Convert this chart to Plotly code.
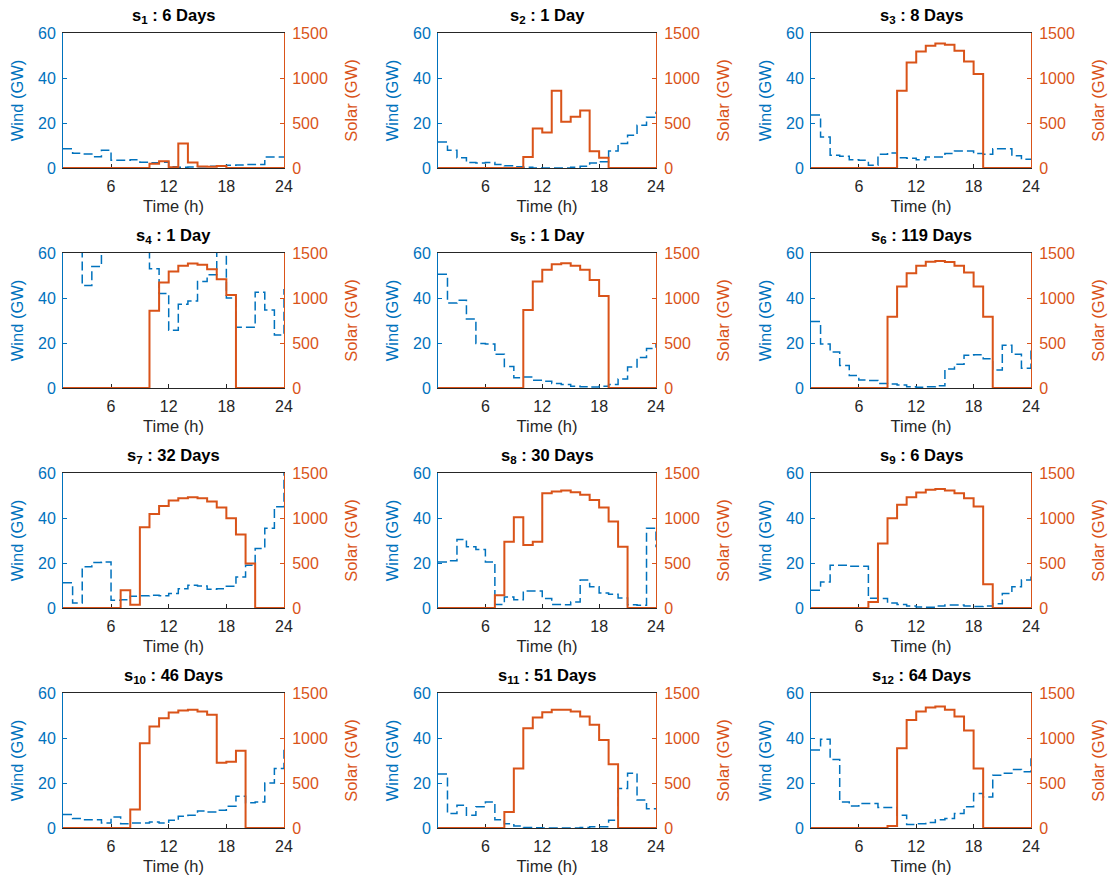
import plotly.graph_objects as go

hours = list(range(1, 25))
days = [6, 1, 8, 1, 1, 119, 32, 30, 6, 46, 51, 64]

wind_s1 = [8.6, 6.5, 6.2, 5.0, 7.9, 3.4, 3.4, 3.7, 2.6, 2.3, 2.5, 0.5, 0.3, 0.4, 0.6, 0.8, 1.0, 1.2, 1.3, 1.5, 1.6, 4.9, 4.9, 4.9]
wind_s2 = [11.6, 7.9, 4.5, 2.4, 2.2, 2.4, 1.6, 1.0, 0.5, 0.3, 0, 0, 0, 0, 0.3, 0.8, 2.2, 2.8, 7.5, 10.9, 14.6, 19, 22.5, 25]
wind_s3 = [23.5, 13.8, 5.7, 5.2, 3.7, 3.4, 1.2, 6.1, 6.7, 4.6, 4.3, 3.7, 4.9, 4.9, 6.4, 7.6, 7.6, 6.4, 6.1, 8.6, 8.6, 5.4, 3.9, 3.9]
wind_s4 = [65, 65, 45.5, 54, 65, 65, 65, 65, 65, 53, 42, 25.7, 37.2, 38.7, 47.3, 50.3, 65, 40, 27, 27, 42.5, 34.7, 23.5, 44]
wind_s5 = [50.6, 37.8, 39.0, 30.7, 19.8, 19.5, 15.0, 9.5, 4.6, 4.9, 3.4, 3.0, 2.0, 1.5, 0.8, 0.6, 0.4, 0.8, 1.5, 4.0, 9.3, 13.5, 17.6, 20]
wind_s6 = [29.5, 19.5, 16, 10, 5.5, 3.5, 3.3, 2.0, 1.8, 1.3, 0.5, 0.3, 0.5, 1.0, 8.4, 10.5, 14.5, 14.8, 13, 8.0, 19, 15, 8.8, 17]
wind_s7 = [11.2, 2.2, 18.3, 20.2, 20.5, 3.4, 3.7, 5.2, 5.4, 5.7, 5.4, 6.4, 8.6, 10.1, 9.8, 8.3, 8.6, 9.7, 13.8, 19, 26.5, 35.4, 45, 62]
wind_s8 = [20.5, 21, 30.5, 27.2, 26, 20.5, 1.6, 4.9, 3.7, 7.6, 7.6, 4.2, 1.6, 1.5, 2.7, 12.4, 9.4, 6.7, 6.1, 4.5, 1.5, 1.2, 35.4, 27]
wind_s9 = [7.9, 11.6, 19, 19, 18.6, 18.6, 4.3, 4.2, 2.2, 1.6, 0.9, 0.4, 0.3, 0.9, 1.3, 1.3, 0.9, 0.7, 0.9, 1.9, 6.4, 9.4, 12.4, 14]
wind_s10 = [6.0, 4.2, 3.7, 3.7, 2.2, 4.9, 1.9, 2.2, 2.2, 2.7, 2.2, 3.4, 5.2, 5.7, 7.6, 7.1, 7.9, 9.7, 14.1, 11.2, 11.6, 20, 26.5, 35]
wind_s11 = [24, 6.4, 10.1, 5.7, 9.4, 11.6, 3.7, 1.9, 0.9, 0.2, 0.1, 0, 0, 0, 0, 0.2, 0.6, 0.6, 3.4, 17.6, 24.3, 12.4, 8.6, 8.6]
wind_s12 = [34.7, 39.4, 30.5, 11.6, 9.8, 10.9, 10.9, 9.1, 9.1, 5.7, 1.6, 1.9, 2.4, 3.7, 4.2, 6.4, 9.4, 15.3, 13.8, 23.5, 24.3, 26, 25, 31]

solar_s1 = [0] * 9 + [48, 75, 8, 272, 60, 18, 15, 22] + [0] * 7
solar_s2 = [0] * 9 + [123, 439, 394, 859, 513, 569, 640, 186, 115] + [0] * 6
solar_s3 = [0] * 9 + [859, 1172, 1295, 1358, 1384, 1369, 1302, 1183, 1045] + [0] * 6
solar_s4 = [0] * 9 + [859, 1172, 1295, 1358, 1384, 1369, 1320, 1209, 1034] + [0] * 6
solar_s5 = [0] * 9 + [867, 1183, 1313, 1376, 1387, 1358, 1313, 1201, 1023] + [0] * 6
solar_s6 = [0] * 8 + [792, 1127, 1276, 1358, 1402, 1410, 1399, 1358, 1283, 1127, 792] + [0] * 5
solar_s7 = [0] * 6 + [197, 37, 896, 1045, 1134, 1194, 1220, 1231, 1220, 1183, 1116, 997, 818, 495] + [0] * 4
solar_s8 = [0] * 6 + [141, 737, 1008, 700, 737, 1276, 1295, 1306, 1287, 1257, 1201, 1116, 960, 681] + [0] * 4
solar_s9 = [0] * 6 + [67, 718, 997, 1146, 1231, 1283, 1313, 1321, 1306, 1276, 1220, 1127, 264] + [0] * 5
solar_s10 = [0] * 7 + [205, 941, 1127, 1220, 1283, 1306, 1313, 1295, 1257, 725, 737, 859] + [0] * 5
solar_s11 = [0] * 7 + [179, 662, 1108, 1228, 1287, 1313, 1313, 1295, 1239, 1146, 979, 707] + [0] * 5
solar_s12 = [0] * 8 + [22, 885, 1201, 1295, 1339, 1350, 1313, 1239, 1083, 662] + [0] * 6

wind = [wind_s1, wind_s2, wind_s3, wind_s4, wind_s5, wind_s6,
        wind_s7, wind_s8, wind_s9, wind_s10, wind_s11, wind_s12]
solar = [solar_s1, solar_s2, solar_s3, solar_s4, solar_s5, solar_s6,
         solar_s7, solar_s8, solar_s9, solar_s10, solar_s11, solar_s12]

xticks = [6, 12, 18, 24]
wind_ticks = [0, 20, 40, 60]
solar_ticks = [0, 500, 1000, 1500]

BLUE = "#0072BD"
ORANGE = "#D95319"
DARK = "#262626"
FONT = "Liberation Sans, Arial, Helvetica, sans-serif"
TICK = 16
LAB = 16.5

W, H = 1110, 882
col_px = [(63, 284), (438, 656), (811, 1031)]
row_px = [(33, 168), (253, 388), (473, 608), (693, 828)]

fig = go.Figure()
layout = dict(
    width=W, height=H, autosize=False,
    margin=dict(l=0, r=0, t=0, b=0, pad=0, autoexpand=False),
    paper_bgcolor="white", plot_bgcolor="white",
    showlegend=False, font=dict(family=FONT, size=TICK, color=DARK),
    annotations=[],
)

for i in range(12):
    r, c = divmod(i, 3)
    x0, x1 = col_px[c]
    ytop, ybot = row_px[r]
    xd = [x0 / W, x1 / W]
    yd = [1 - ybot / H, 1 - ytop / H]
    xn = f"x{i + 1}"
    yw = f"y{2 * i + 1}"
    ys = f"y{2 * i + 2}"
    xk = "xaxis" if i == 0 else f"xaxis{i + 1}"
    ywk = "yaxis" if i == 0 else f"yaxis{2 * i + 1}"
    ysk = f"yaxis{2 * i + 2}"

    fig.add_trace(go.Scatter(
        x=hours, y=wind[i], xaxis=xn, yaxis=yw, mode="lines",
        line=dict(color=BLUE, width=1.5, dash="9px,4px", shape="hv"),
        hoverinfo="skip"))
    fig.add_trace(go.Scatter(
        x=hours, y=solar[i], xaxis=xn, yaxis=ys, mode="lines",
        line=dict(color=ORANGE, width=2, shape="hv"),
        hoverinfo="skip"))

    layout[xk] = dict(
        domain=xd, anchor=yw, range=[1, 24], tickvals=xticks,
        ticks="inside", ticklen=4, tickcolor=DARK, showline=True,
        linecolor=DARK, linewidth=1, mirror=True, showgrid=False,
        zeroline=False, automargin=False, layer="below traces",
        ticklabelstandoff=4, tickfont=dict(size=TICK, color=DARK),
        title=dict(text="Time (h)", font=dict(size=LAB, color=DARK), standoff=6),
    )
    layout[ywk] = dict(
        domain=yd, anchor=xn, range=[0, 60], tickvals=wind_ticks,
        ticks="inside", ticklen=4, tickcolor=BLUE, showline=True,
        linecolor=BLUE, linewidth=1, showgrid=False, zeroline=False,
        automargin=False, ticklabelstandoff=3, tickfont=dict(size=TICK, color=BLUE),
        title=dict(text="Wind (GW)", font=dict(size=LAB, color=BLUE), standoff=10),
    )
    layout[ysk] = dict(
        domain=yd, anchor=xn, overlaying=yw, side="right", range=[0, 1500],
        tickvals=solar_ticks, ticks="inside", ticklen=4, tickcolor=ORANGE,
        showline=True, linecolor=ORANGE, linewidth=1, showgrid=False,
        zeroline=False, automargin=False, ticklabelstandoff=4,
        tickfont=dict(size=TICK, color=ORANGE),
        title=dict(text="Solar (GW)", font=dict(size=LAB, color=ORANGE), standoff=18),
    )
    label = "Day" if days[i] == 1 else "Days"
    layout["annotations"].append(dict(
        text=f"<b>s<sub>{i + 1}</sub> : {days[i]} {label}</b>",
        xref="paper", yref="paper", x=(xd[0] + xd[1]) / 2, y=yd[1],
        xanchor="center", yanchor="bottom", yshift=5, showarrow=False,
        font=dict(family=FONT, size=16.5, color="black"),
    ))

fig.update_layout(**layout)
fig.write_html("out.html")
